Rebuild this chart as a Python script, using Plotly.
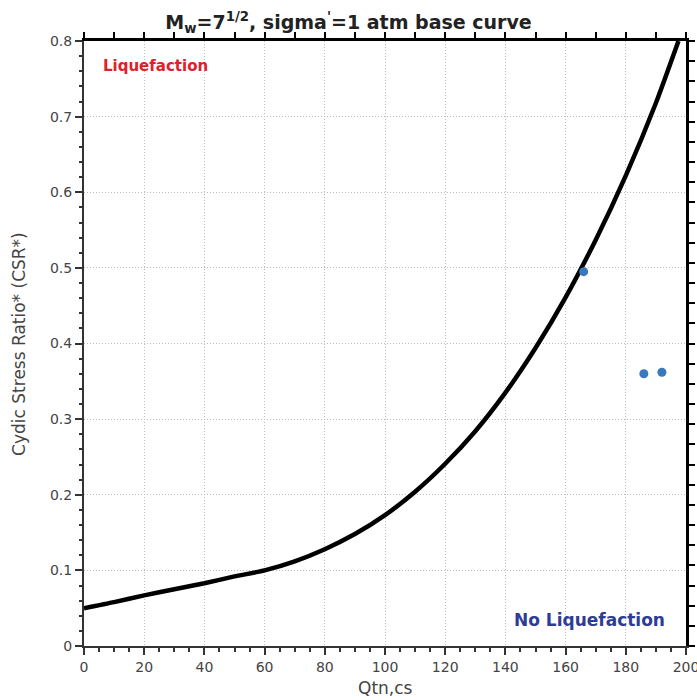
import plotly.graph_objects as go

# Base curve (Qtn,cs vs CSR*) read point by point
curve_q = [0, 10, 20, 30, 40, 50, 60, 70, 80, 90, 100, 110, 120, 130, 140, 150, 160, 170, 180, 190, 197.5]
curve_csr = [0.050, 0.058, 0.067, 0.075, 0.083, 0.092, 0.100, 0.112, 0.128, 0.148, 0.173, 0.204,
             0.241, 0.284, 0.335, 0.394, 0.461, 0.537, 0.622, 0.718, 0.800]

# Measured points
pts_q = [166, 186, 192]
pts_csr = [0.495, 0.360, 0.362]

x_range = [0, 200]
y_range = [0, 0.8]

tick_font = dict(family="DejaVu Sans", size=14, color="#444444")
title_font = dict(family="DejaVu Sans", size=17, color="#444444")

fig = go.Figure()
fig.add_trace(go.Scatter(
    x=curve_q, y=curve_csr, mode="lines",
    line=dict(color="black", width=4.5, shape="spline", smoothing=0.6),
    showlegend=False, hoverinfo="skip"))
fig.add_trace(go.Scatter(
    x=pts_q, y=pts_csr, mode="markers",
    marker=dict(color="#3a78bd", size=9),
    showlegend=False))
# invisible trace so the top/right frame axes get drawn
fig.add_trace(go.Scatter(
    x=x_range, y=y_range, xaxis="x2", yaxis="y2", mode="markers",
    marker=dict(opacity=0), showlegend=False, hoverinfo="skip"))

fig.update_layout(
    width=697, height=700,
    margin=dict(l=84, r=11, t=41, b=54),
    plot_bgcolor="white", paper_bgcolor="white",
    title=dict(text="M<sub>w</sub>=7<sup>1/2</sup>, sigma<sup>'</sup>=1 atm base curve",
               x=0.5, xanchor="center", y=0.978, yanchor="top",
               font=dict(family="DejaVu Sans", size=19, color="#222222", weight="bold")),
    xaxis=dict(range=x_range, dtick=20, tick0=0, showgrid=True, automargin=False,
               gridcolor="#bcbcbc", griddash="1px,2px", gridwidth=1,
               ticks="outside", ticklen=7, tickcolor="#333333", tickwidth=1.5,
               minor=dict(dtick=5, ticks="outside", ticklen=4, tickcolor="#333333", showgrid=False),
               showline=True, linecolor="#333333", linewidth=2,
               zeroline=False, tickfont=tick_font, ticklabeloverflow="allow"),
    yaxis=dict(range=y_range, dtick=0.1, tick0=0, showgrid=True, automargin=False,
               gridcolor="#bcbcbc", griddash="1px,2px", gridwidth=1,
               ticks="outside", ticklen=7, tickcolor="#333333", tickwidth=1.5,
               minor=dict(dtick=0.02, ticks="outside", ticklen=3, tickcolor="#333333", showgrid=False),
               showline=True, linecolor="#333333", linewidth=2,
               zeroline=False, tickfont=tick_font, tickformat="~g", ticklabeloverflow="allow"),
    xaxis2=dict(range=x_range, overlaying="x", side="top", dtick=10, tick0=0, automargin=False,
                ticks="outside", ticklen=6, tickcolor="black", tickwidth=1.5,
                showticklabels=False, showgrid=False, zeroline=False,
                showline=True, linecolor="black", linewidth=3),
    yaxis2=dict(range=y_range, overlaying="y", side="right", dtick=0.8 / 30, tick0=0, automargin=False,
                ticks="outside", ticklen=6, tickcolor="black", tickwidth=1.5,
                showticklabels=False, showgrid=False, zeroline=False,
                showline=True, linecolor="black", linewidth=3),
    annotations=[
        dict(text="Qtn,cs", x=0.5, y=-0.069, xref="paper", yref="paper",
             xanchor="center", yanchor="middle", showarrow=False, font=title_font),
        dict(text="Cydic Stress Ratio* (CSR*)", x=-0.109, y=0.5, xref="paper", yref="paper",
             xanchor="center", yanchor="middle", showarrow=False, textangle=-90, font=title_font),
        dict(text="Liquefaction", x=0.028, y=0.958, xref="paper", yref="paper",
             xanchor="left", yanchor="middle", showarrow=False,
             font=dict(family="DejaVu Sans", size=15, color="#e0202a", weight="bold")),
        dict(text="No Liquefaction", x=0.968, y=0.043, xref="paper", yref="paper",
             xanchor="right", yanchor="middle", showarrow=False,
             font=dict(family="DejaVu Sans", size=17, color="#2e3c96", weight="bold")),
    ],
)

fig.write_html("out.html")
